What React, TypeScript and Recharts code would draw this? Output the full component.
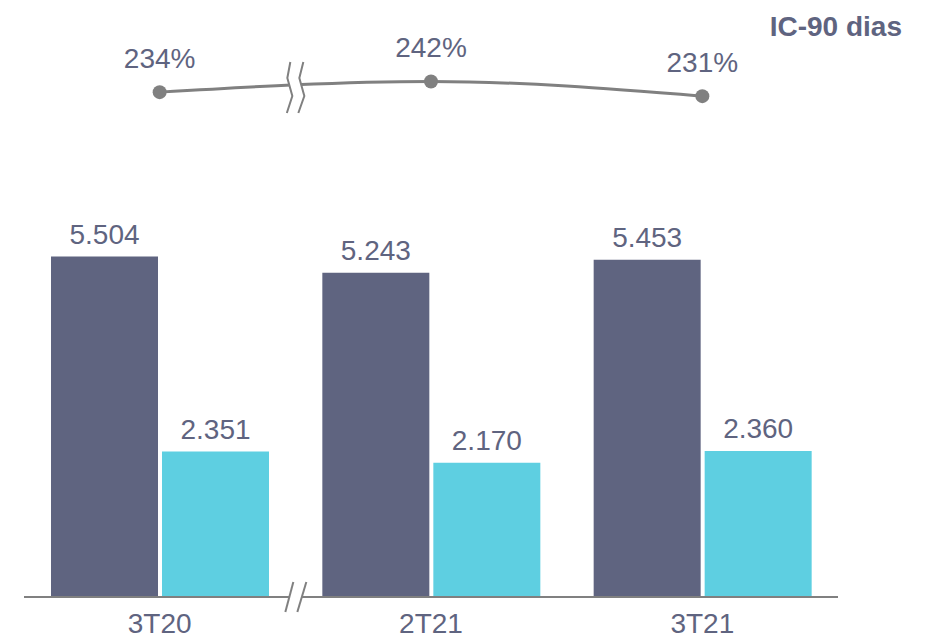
import { ComposedChart, Bar, Line, XAxis, YAxis, LabelList } from 'recharts';

const periods = ['3T20', '2T21', '3T21'];
const carteira = [5504, 5243, 5453];
const atraso = [2351, 2170, 2360];
const ic90 = [234, 242, 231];

const data = periods.map((p, i) => ({
  period: p,
  carteira: carteira[i],
  atraso: atraso[i],
  ic90: ic90[i],
}));

const W = 941;
const H = 639;
const axisH = 30;
const margin = { top: 20, right: 103, bottom: 12, left: 24 };
const textColor = '#5f6480';
const font = '"Liberation Sans", Arial, sans-serif';

const fmtThousand = (v: number) => (v / 1000).toFixed(3);

// decorative break marks sit on the boundary between first and second category
function Breaks() {
  const band = (W - margin.left - margin.right) / periods.length;
  const cx = margin.left + band;
  const axisY = H - margin.bottom - axisH;
  const ly = 86;
  const left = [[cx - 5, ly - 24], [cx - 8, ly - 8], [cx - 3, ly + 10], [cx - 8.5, ly + 27]];
  const right = [[cx + 8, ly - 24], [cx + 4, ly - 8], [cx + 9, ly + 10], [cx + 3, ly + 27]];
  const pts = (a: number[][]) => a.map((p) => p.join(',')).join(' ');
  return (
    <svg width={W} height={H} style={{ position: 'absolute', left: 0, top: 0, pointerEvents: 'none' }}>
      <polygon points={pts([...left, ...right.slice().reverse()])} fill="#fff" />
      <polyline points={pts(left)} fill="none" stroke="#808080" strokeWidth={2} />
      <polyline points={pts(right)} fill="none" stroke="#808080" strokeWidth={2} />
      <polygon
        points={`${cx - 10},${axisY + 15} ${cx - 2},${axisY - 15} ${cx + 11},${axisY - 15} ${cx + 2},${axisY + 15}`}
        fill="#fff"
      />
      <line x1={cx - 10} y1={axisY + 15} x2={cx - 2} y2={axisY - 15} stroke="#808080" strokeWidth={2} />
      <line x1={cx + 2} y1={axisY + 15} x2={cx + 11} y2={axisY - 15} stroke="#808080" strokeWidth={2} />
      <text x={902} y={36} textAnchor="end" fontFamily={font} fontWeight="bold" fontSize={28} fill={textColor}>
        IC-90 dias
      </text>
    </svg>
  );
}

export default function App() {
  return (
    <div style={{ position: 'absolute', left: 0, top: 0, width: W, height: H, background: '#fff', fontFamily: font }}>
      <ComposedChart width={W} height={H} data={data} margin={margin} barGap={4}>
        <XAxis
          dataKey="period"
          height={axisH}
          axisLine={{ stroke: '#808080', strokeWidth: 2 }}
          tickLine={false}
          tickMargin={10}
          tick={{ fill: textColor, fontSize: 28, fontFamily: font }}
        />
        <YAxis yAxisId="bars" hide domain={[0, 9330]} />
        <YAxis yAxisId="line" hide domain={[-144, 288]} />
        <Bar yAxisId="bars" dataKey="carteira" fill="#5f6480" barSize={107} isAnimationActive={false}>
          <LabelList
            dataKey="carteira"
            position="top"
            offset={13}
            formatter={(v: any) => fmtThousand(Number(v))}
            style={{ fill: textColor, fontSize: 28, fontFamily: font }}
          />
        </Bar>
        <Bar yAxisId="bars" dataKey="atraso" fill="#5ecfe1" barSize={107} isAnimationActive={false}>
          <LabelList
            dataKey="atraso"
            position="top"
            offset={13}
            formatter={(v: any) => fmtThousand(Number(v))}
            style={{ fill: textColor, fontSize: 28, fontFamily: font }}
          />
        </Bar>
        <Line
          yAxisId="line"
          dataKey="ic90"
          type="monotone"
          stroke="#808080"
          strokeWidth={3}
          dot={{ r: 7, fill: '#808080', stroke: 'none' }}
          isAnimationActive={false}
        >
          <LabelList
            dataKey="ic90"
            position="top"
            offset={24}
            formatter={(v: any) => `${v}%`}
            style={{ fill: textColor, fontSize: 28, fontFamily: font }}
          />
        </Line>
      </ComposedChart>
      <Breaks />
    </div>
  );
}
